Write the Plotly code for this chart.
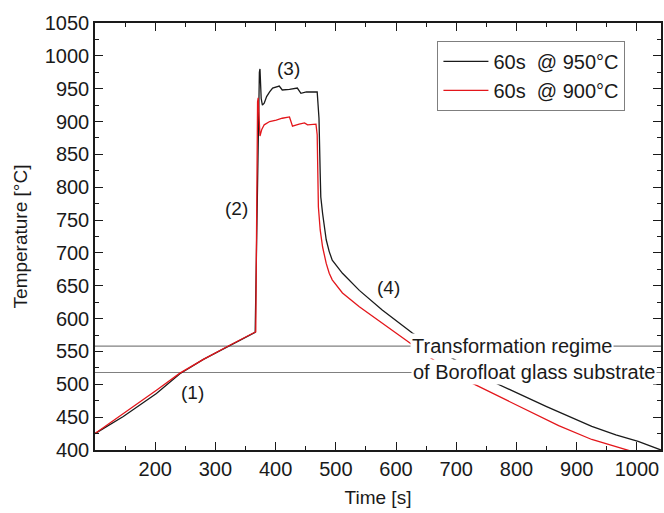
import plotly.graph_objects as go

# ---- data ----
t_950 = [100, 147, 202, 241, 280, 323, 351, 366, 373, 374, 376, 378, 381, 385, 390, 395, 406, 411, 423, 436,
         442, 451, 469, 472, 474, 475, 478, 484, 489, 494, 511, 539, 577, 627, 700, 765, 850, 925, 965, 1002, 1040]
T_950 = [425, 451, 486, 516, 538, 558, 571, 579, 975, 980, 935, 925, 928, 938, 945, 951, 954, 948, 949, 951,
         943, 945, 945, 905, 821, 785, 760, 720, 702, 689, 669, 643, 613, 578, 536, 502, 466, 436, 423, 413, 400]

t_900 = [100, 147, 202, 241, 280, 323, 351, 367, 370, 371, 374, 377, 381, 390, 401, 411, 423, 428, 439, 448,
         453, 461, 467, 469, 471, 474, 478, 484, 489, 494, 511, 539, 577, 621, 670, 721, 815, 870, 925, 986, 995]
T_900 = [425, 455, 491, 517, 538, 559, 572, 580, 930, 936, 878, 888, 895, 900, 902, 905, 907, 893, 896, 898,
         895, 896, 896, 880, 770, 735, 709, 684, 669, 659, 639, 618, 593, 563, 532, 504, 461, 437, 416, 400, 397]

series_names = ["60s  @ 950°C", "60s  @ 900°C"]
regime_levels = [558, 518]
regime_texts = ["Transformation regime", "of Borofloat glass substrate"]
regime_t = [623, 624]
stage_labels = ["(1)", "(2)", "(3)", "(4)"]
stage_t = [262, 335, 421, 587]
stage_T = [487, 768, 981, 647]
x_ticks = list(range(200, 1001, 100))

FONT = "Arial, Liberation Sans, sans-serif"
TXT = "#1a1a1a"

fig = go.Figure()

# transformation regime lines
for lvl in regime_levels:
    fig.add_shape(type="line", xref="paper", x0=0, x1=1, yref="y", y0=lvl, y1=lvl,
                  line=dict(color="#808080", width=1.2), layer="below")

fig.add_trace(go.Scatter(x=t_950, y=T_950, mode="lines", name=series_names[0],
                         line=dict(color="#1a1a1a", width=1.3)))
fig.add_trace(go.Scatter(x=t_900, y=T_900, mode="lines", name=series_names[1],
                         line=dict(color="#e3161b", width=1.3)))

# regime text with white background (interrupts the lines)
for txt, lvl, xv in zip(regime_texts, regime_levels, regime_t):
    fig.add_annotation(x=xv, y=lvl, xref="x", yref="y", text=txt, showarrow=False,
                       xanchor="left", yanchor="middle", bgcolor="white", borderpad=1,
                       font=dict(family=FONT, size=20, color=TXT))

for lab, tx, ty in zip(stage_labels, stage_t, stage_T):
    fig.add_annotation(x=tx, y=ty, text=lab, showarrow=False,
                       font=dict(family=FONT, size=19, color=TXT))

axis_common = dict(showline=True, linecolor="#1a1a1a", linewidth=1.5, mirror="ticks",
                   ticks="inside", ticklen=8, tickwidth=1.3, tickcolor="#1a1a1a",
                   showgrid=False, zeroline=False,
                   tickfont=dict(family=FONT, size=20, color=TXT))

fig.update_xaxes(range=[100, 1040], tickvals=x_ticks,
                 minor=dict(ticks="inside", ticklen=4, tickwidth=1.2, tickcolor="#1a1a1a", dtick=50, tick0=100),
                 title=dict(text="Time [s]", font=dict(family=FONT, size=19, color=TXT), standoff=12),
                 **axis_common)
fig.update_yaxes(range=[400, 1050], dtick=50, tick0=400,
                 minor=dict(ticks="inside", ticklen=4, tickwidth=1.2, tickcolor="#1a1a1a", dtick=25, tick0=400),
                 title=dict(text="Temperature [°C]", font=dict(family=FONT, size=19, color=TXT), standoff=12),
                 **axis_common)

fig.update_layout(
    width=664, height=513,
    margin=dict(l=95, r=1, t=23, b=63),
    paper_bgcolor="white", plot_bgcolor="white",
    font=dict(family=FONT, color=TXT),
    legend=dict(x=0.605, y=0.958, xanchor="left", yanchor="top",
                bgcolor="white", bordercolor="#7f7f7f", borderwidth=1,
                font=dict(family=FONT, size=20, color=TXT), itemwidth=45,
                tracegroupgap=0),
)

fig.write_html("out.html", config={"displayModeBar": False},
               post_script="document.body.style.margin='0';document.body.style.overflow='hidden';")
